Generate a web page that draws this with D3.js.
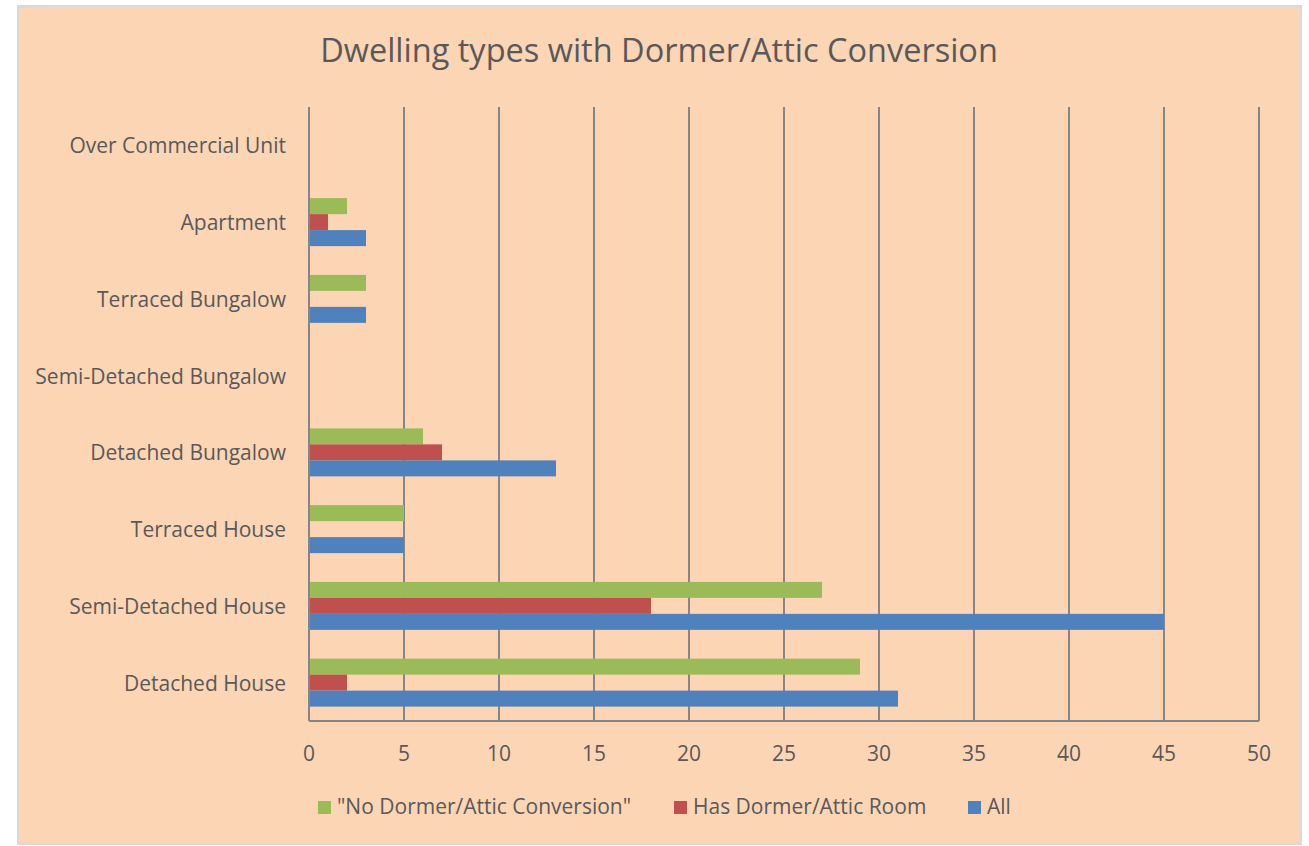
<!DOCTYPE html>
<html>
<head>
<meta charset="utf-8">
<script src="https://cdn.jsdelivr.net/npm/d3@7"></script>
<style>
  body { margin: 0; background: #ffffff; }
  text { font-family: "Open Sans", sans-serif; fill: #595959; }
</style>
</head>
<body>
<div id="chart"></div>
<script>
var svgWidth = 1309;
var svgHeight = 846;

var categories = ["Over Commercial Unit", "Apartment", "Terraced Bungalow", "Semi-Detached Bungalow",
    "Detached Bungalow", "Terraced House", "Semi-Detached House", "Detached House"];
var seriesNames = ["\"No Dormer/Attic Conversion\"", "Has Dormer/Attic Room", "All"];
var noDormer = [0, 2, 3, 0, 6, 5, 27, 29];
var hasDormer = [0, 1, 0, 0, 7, 0, 18, 2];
var allValues = [0, 3, 3, 0, 13, 5, 45, 31];
var xTicks = [0, 5, 10, 15, 20, 25, 30, 35, 40, 45, 50];
var colors = ["#9BBB59", "#C0504D", "#4F81BD"];

var margin = { top: 107, right: 50, bottom: 125, left: 309 };
var width = 1259 - margin.left;
var height = 721 - margin.top;

var svg = d3.select("#chart")
    .append("svg")
    .attr("width", svgWidth)
    .attr("height", svgHeight);

svg.append("rect")
    .attr("x", 18).attr("y", 6)
    .attr("width", 1283).attr("height", 838)
    .attr("fill", "#FCD5B5")
    .attr("stroke", "#D9D9D9")
    .attr("stroke-width", 2);

svg.append("text")
    .attr("x", 659)
    .attr("y", 62)
    .attr("text-anchor", "middle")
    .style("font-size", "32.5px")
    .text("Dwelling types with Dormer/Attic Conversion");

var chartGroup = svg.append("g")
    .attr("transform", `translate(${margin.left}, ${margin.top})`);

var xLinearScale = d3.scaleLinear().domain([0, 50]).range([0, width]);
var yBandScale = d3.scaleBand().domain(categories).range([0, height]).paddingInner(0.375).paddingOuter(0.1875);
var innerScale = d3.scaleBand().domain([0, 1, 2]).range([0, yBandScale.bandwidth()]);

// vertical gridlines
chartGroup.selectAll(".grid")
    .data(xTicks)
    .enter()
    .append("line")
    .attr("x1", d => xLinearScale(d))
    .attr("x2", d => xLinearScale(d))
    .attr("y1", 0)
    .attr("y2", height)
    .attr("stroke", "#868686")
    .attr("stroke-width", 2);

var data = categories.map((c, i) => ({
    category: c,
    values: [noDormer[i], hasDormer[i], allValues[i]]
}));

var groups = chartGroup.selectAll(".group")
    .data(data)
    .enter()
    .append("g")
    .attr("transform", d => `translate(0, ${yBandScale(d.category)})`);

groups.selectAll("rect")
    .data(d => d.values.map((v, j) => ({ v: v, j: j })))
    .enter()
    .append("rect")
    .attr("x", 1)
    .attr("y", d => innerScale(d.j))
    .attr("width", d => Math.max(0, xLinearScale(d.v) - 1))
    .attr("height", innerScale.bandwidth())
    .attr("fill", d => colors[d.j])
    .attr("display", d => d.v > 0 ? null : "none");

// axis lines
chartGroup.append("line")
    .attr("x1", 0).attr("x2", width)
    .attr("y1", height).attr("y2", height)
    .attr("stroke", "#868686").attr("stroke-width", 2);

// x tick labels
chartGroup.selectAll(".xlabel")
    .data(xTicks)
    .enter()
    .append("text")
    .attr("x", d => xLinearScale(d))
    .attr("y", height + 40)
    .attr("text-anchor", "middle")
    .style("font-size", "21px")
    .text(d => d);

// y labels
chartGroup.selectAll(".ylabel")
    .data(categories)
    .enter()
    .append("text")
    .attr("x", -23)
    .attr("y", d => yBandScale(d) + yBandScale.bandwidth() / 2 + 8)
    .attr("text-anchor", "end")
    .style("font-size", "21px")
    .text(d => d);

// legend
var legendX = [318, 674, 968];
var legend = svg.selectAll(".legend")
    .data(seriesNames)
    .enter()
    .append("g")
    .attr("transform", (d, i) => `translate(${legendX[i]}, 801)`);

legend.append("rect")
    .attr("width", 13).attr("height", 13)
    .attr("fill", (d, i) => colors[i]);

legend.append("text")
    .attr("x", 19)
    .attr("y", 13)
    .style("font-size", "21px")
    .text(d => d);
</script>
</body>
</html>
